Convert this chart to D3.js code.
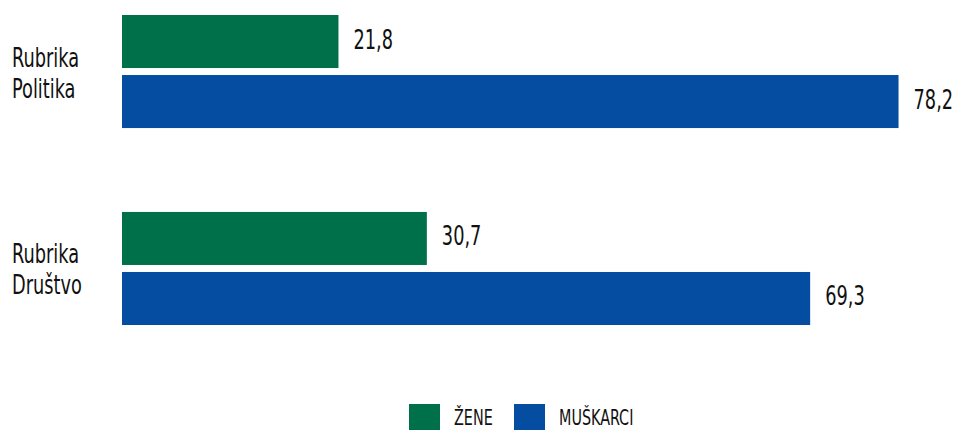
<!DOCTYPE html>
<html>
<head>
<meta charset="utf-8">
<script src="https://cdn.jsdelivr.net/npm/d3@7"></script>
<style>
  body { margin: 0; background: #fff; }
  svg text { font-family: "DejaVu Sans Condensed", "DejaVu Sans", sans-serif; fill: #111; }
</style>
</head>
<body>
<svg id="chart" width="957" height="430"></svg>
<script>
// podaci
var categories = ["Rubrika Politika", "Rubrika Društvo"];
var series = ["ŽENE", "MUŠKARCI"];
var zene = [21.8, 30.7];
var muskarci = [78.2, 69.3];
var colors = ["#00704a", "#044da1"];

var sx = 0.76;   // uski font (nema Myriad Condensed)

var svg = d3.select("#chart");

var x = d3.scaleLinear().domain([0, 100]).range([122, 1115]);

var y0 = d3.scaleBand().domain(categories).range([15, 325]).paddingInner(0.426).paddingOuter(0);
var y1 = d3.scaleBand().domain(series).range([0, y0.bandwidth()]).paddingInner(0.1167);

var rows = categories.map(function (c, i) {
	return { cat: c, vals: [{ s: series[0], v: zene[i] }, { s: series[1], v: muskarci[i] }] };
});

var groups = svg.selectAll("g.grp").data(rows).enter().append("g")
	.attr("class", "grp")
	.attr("transform", function (d) { return "translate(0," + y0(d.cat) + ")"; });

groups.selectAll("rect").data(function (d) { return d.vals; }).enter().append("rect")
	.attr("x", x(0))
	.attr("y", function (d) { return y1(d.s); })
	.attr("width", function (d) { return x(d.v) - x(0); })
	.attr("height", y1.bandwidth())
	.attr("fill", function (d, i) { return colors[i]; });

// vrijednosti
groups.selectAll("text.val").data(function (d) { return d.vals; }).enter().append("text")
	.attr("class", "val")
	.attr("transform", function (d) {
		return "translate(" + (x(d.v) + 15) + "," + (y1(d.s) + y1.bandwidth() / 2 + 7) + ") scale(" + sx + ",1)";
	})
	.attr("font-size", "26px")
	.text(function (d) { return d.v.toFixed(1).replace(".", ","); });

// nazivi kategorija, dva reda
groups.selectAll("text.cat").data(function (d) { return d.cat.split(" "); }).enter().append("text")
	.attr("class", "cat")
	.attr("font-size", "26px")
	.attr("transform", function (d, i) {
		return "translate(12," + (y0.bandwidth() / 2 + (i == 0 ? -5 : 26)) + ") scale(" + sx + ",1)";
	})
	.text(function (d) { return d; });

// legenda
var legendX = [409, 514];
var leg = svg.selectAll("g.leg").data(series).enter().append("g")
	.attr("class", "leg")
	.attr("transform", function (d, i) { return "translate(" + legendX[i] + ",404)"; });
leg.append("rect").attr("width", 31).attr("height", 26).attr("fill", function (d, i) { return colors[i]; });
leg.append("text")
	.attr("transform", "translate(45,21) scale(" + sx + ",1)")
	.attr("font-size", "21px")
	.text(function (d) { return d; });
</script>
</body>
</html>
